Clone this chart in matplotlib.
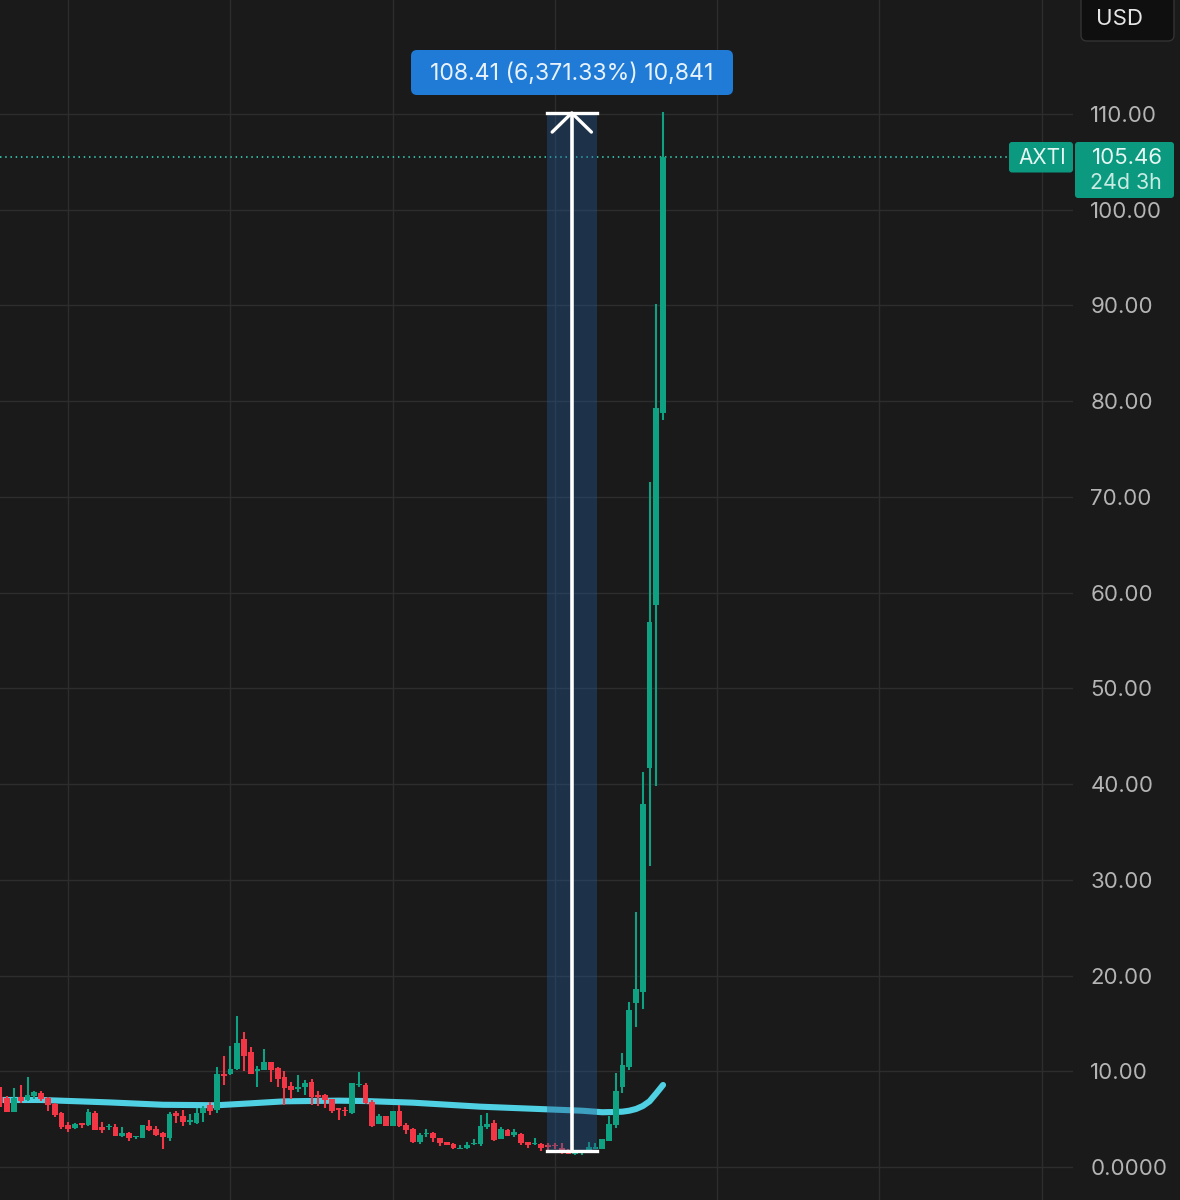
#!/usr/bin/env python3
"""AXTI candles with long moving average and a price range measure, dark theme."""
import matplotlib.pyplot as plt
import numpy as np
from matplotlib.patches import FancyBboxPatch, Rectangle
from matplotlib.transforms import IdentityTransform

W, H = 1180, 1200
BG = "#1a1a1a"
GRID = "#2d2d2d"
UP = "#0ea283"
DOWN = "#f23645"
MA_COLOR = "#4fd0e3"
LABEL = "#b4b4b4"

plt.rcParams["font.family"] = ["Inter", "DejaVu Sans"]

first_index = -1
opens = [
    7.35, 7.17, 5.75, 7.28, 7.00, 7.42, 7.76, 7.17, 6.58, 5.68,
    4.35, 4.04, 4.56, 4.35, 5.68, 4.14, 4.14, 4.21, 3.20, 3.59,
    3.10, 3.06, 4.32, 3.93, 3.52, 2.99, 5.61, 5.33, 4.70, 4.63,
    5.61, 6.48, 5.95, 9.71, 9.71, 10.27, 13.37, 12.01, 9.99, 10.17,
    10.97, 10.34, 9.37, 8.43, 8.11, 8.32, 8.88, 7.56, 7.49, 7.07,
    6.13, 5.92, 5.61, 8.53, 8.53, 6.82, 4.49, 5.29, 4.32, 5.88,
    4.42, 3.97, 2.65, 3.41, 3.55, 3.06, 2.58, 2.44, 1.92, 1.95,
    2.37, 2.40, 4.14, 4.63, 2.92, 3.86, 3.31, 3.41, 2.58, 2.40,
    2.44, 2.33, 2.33, 1.95, 1.71, 1.39, 1.46, 1.50, 1.92, 1.92,
    2.75, 4.35, 8.32, 10.45, 17.13, 18.28, 41.68, 58.71, 78.76,
]
highs = [
    8.32, 7.45, 8.22, 8.60, 9.37, 7.97, 7.97, 7.28, 6.65, 5.75,
    4.70, 4.60, 4.63, 6.09, 5.88, 4.67, 4.46, 4.49, 4.14, 3.66,
    3.27, 4.42, 4.91, 4.28, 3.66, 5.78, 5.88, 5.95, 5.54, 6.13,
    6.37, 6.82, 10.48, 11.60, 12.64, 15.81, 14.07, 12.50, 10.59, 12.33,
    10.97, 10.48, 9.99, 8.84, 9.65, 9.09, 9.23, 7.97, 7.63, 7.14,
    6.13, 6.30, 8.81, 9.89, 8.81, 7.00, 5.54, 5.36, 5.88, 6.48,
    4.56, 4.04, 3.59, 4.00, 3.62, 3.06, 2.58, 2.54, 2.30, 2.65,
    2.89, 5.43, 5.61, 4.91, 4.21, 3.97, 4.00, 3.55, 2.58, 3.06,
    2.51, 2.47, 2.47, 2.54, 1.85, 1.60, 1.67, 2.65, 2.54, 2.89,
    5.33, 9.85, 11.87, 17.24, 26.64, 41.26, 71.56, 90.15, 110.2,
]
lows = [
    6.30, 5.75, 5.75, 6.65, 6.93, 7.07, 6.93, 5.85, 5.19, 3.97,
    3.66, 3.97, 4.11, 4.28, 3.87, 3.59, 3.83, 3.20, 3.13, 2.72,
    2.92, 2.99, 3.80, 3.27, 1.88, 2.68, 4.56, 4.32, 4.39, 4.49,
    4.74, 5.43, 5.68, 8.60, 9.65, 10.13, 10.06, 9.75, 8.39, 10.10,
    8.88, 8.39, 6.51, 7.07, 7.83, 7.56, 6.44, 6.37, 6.16, 5.68,
    4.91, 5.33, 5.54, 8.32, 6.58, 4.14, 4.46, 4.28, 4.28, 4.21,
    3.45, 2.51, 2.40, 3.17, 2.61, 2.16, 2.30, 1.88, 1.88, 1.88,
    2.30, 2.19, 3.93, 2.75, 2.89, 3.24, 3.17, 2.26, 1.95, 2.26,
    1.71, 1.78, 1.85, 1.36, 1.32, 1.22, 1.29, 1.43, 1.85, 1.85,
    2.68, 4.07, 7.76, 10.13, 14.62, 16.50, 31.44, 39.80, 78.03,
]
closes = [
    6.72, 5.75, 7.17, 6.93, 7.52, 7.87, 7.07, 6.48, 5.43, 4.14,
    3.97, 4.53, 4.39, 5.75, 3.87, 3.87, 4.32, 3.27, 3.59, 3.03,
    3.24, 4.35, 3.87, 3.38, 3.10, 5.54, 5.36, 4.67, 4.91, 5.61,
    6.13, 5.85, 9.71, 9.51, 10.27, 12.92, 11.60, 9.75, 10.24, 10.97,
    10.10, 9.23, 8.25, 8.04, 8.32, 8.77, 7.35, 7.35, 7.00, 5.81,
    5.95, 5.81, 8.81, 8.67, 6.65, 4.28, 5.36, 4.28, 5.88, 4.28,
    3.83, 2.58, 3.38, 3.52, 3.03, 2.51, 2.30, 1.95, 2.02, 2.33,
    2.47, 4.28, 4.49, 2.86, 3.93, 3.27, 3.62, 2.51, 2.26, 2.54,
    1.98, 2.12, 2.19, 1.50, 1.36, 1.53, 1.57, 2.12, 2.05, 2.89,
    4.49, 7.97, 10.65, 16.40, 18.59, 37.92, 56.93, 79.29, 105.46,
]

ma_index = [-1, 5, 15, 23, 31, 36, 41, 49, 53, 60, 70, 80, 85, 88, 90, 91, 92, 93, 94, 95, 96, 97]
ma_values = [7.0, 7.0, 6.75, 6.5, 6.45, 6.65, 6.86, 6.93, 6.89, 6.72, 6.30, 6.02, 5.88, 5.72,
             5.75, 5.78, 5.88, 6.06, 6.37, 6.86, 7.70, 8.57]

price_ticks = [0, 10, 20, 30, 40, 50, 60, 70, 80, 90, 100, 110]
price_labels = ["0.0000", "10.00", "20.00", "30.00", "40.00", "50.00", "60.00",
                "70.00", "80.00", "90.00", "100.00", "110.00"]
time_grid = [9, 33, 57, 81, 105, 129, 153]

last_price = 105.46
range_low, range_high = 1.70, 110.11
range_start, range_end = 79.8, 87.2
range_text = "108.41 (6,371.33%) 10,841"


def px(x, y):
    """Reference pixel (top-left origin) to figure fraction."""
    return x / W, 1 - y / H


def box(fig, x0, y0, x1, y1, color, radius=4, edge="none", lw=0):
    # drawn in pixel space so the corners stay round
    patch = FancyBboxPatch(
        (x0 + radius, H - y1 + radius), x1 - x0 - 2 * radius, y1 - y0 - 2 * radius,
        boxstyle=f"round,pad={radius}", facecolor=color, edgecolor=edge, linewidth=lw,
        transform=IdentityTransform(),
    )
    fig.add_artist(patch)


fig = plt.figure(figsize=(W / 100, H / 100), dpi=100, facecolor=BG)
ax = fig.add_axes([0, 0, 1073 / W, 1])
ax.set_facecolor(BG)
ax.set_xlim((0 - 7.33) / 6.76, (1073 - 7.33) / 6.76)
ax.set_ylim(-33 / 9.573, 1167 / 9.573)
for s in ax.spines.values():
    s.set_visible(False)

ax.set_xticks(time_grid)
ax.set_xticklabels([])
ax.set_yticks(price_ticks)
ax.set_yticklabels(price_labels)
ax.yaxis.tick_right()
ax.tick_params(axis="x", length=0)
ax.tick_params(axis="y", length=0, pad=12.5, labelsize=16, labelcolor=LABEL)
ax.grid(True, color=GRID, lw=1.0)
ax.set_axisbelow(True)

o = np.array(opens)
h = np.array(highs)
l = np.array(lows)
c = np.array(closes)
x = np.arange(first_index, first_index + len(o))
colors = [UP if cc >= oo else DOWN for oo, cc in zip(o, c)]

ax.plot(ma_index, ma_values, color=MA_COLOR, lw=4.4, solid_capstyle="round",
        solid_joinstyle="round", zorder=2)
ax.vlines(x, l, h, colors=colors, lw=1.5, zorder=3)
ax.bar(x, np.abs(c - o), bottom=np.minimum(o, c), width=0.85, color=colors, lw=0, zorder=3)

ax.axhline(last_price, xmax=1009 / 1073, color="#35c4ae", lw=1.3, ls=(0, (0.8, 2.1)), zorder=2)

# range measure
ax.add_patch(Rectangle((range_start, range_low), range_end - range_start, range_high - range_low,
                       facecolor="#24588f", alpha=0.4, lw=0, zorder=4))
mid = (range_start + range_end) / 2
ax.plot([mid, mid], [range_low, range_high], color="white", lw=2.6, zorder=5,
        solid_capstyle="butt")
ax.plot([range_start, range_end], [range_high, range_high], color="white", lw=2.4, zorder=5)
ax.plot([range_start, range_end], [range_low, range_low], color="white", lw=2.4, zorder=5)
ax.plot([mid - 2.9, mid, mid + 2.9], [range_high - 2.0, range_high, range_high - 2.0],
        color="white", lw=2.4, zorder=5, solid_capstyle="round")

# labels on top
box(fig, 411, 50, 733, 95, "#1f7bd6", radius=6)
fx, fy = px(572, 74)
fig.text(fx, fy, range_text, color="#e8f2fb", fontsize=16.6, ha="center", va="center")

box(fig, 1009, 142, 1073, 172.5, "#0b9a80", radius=3)
fx, fy = px(1042, 158)
fig.text(fx, fy, "AXTI", color="#e6f6f2", fontsize=15, ha="center", va="center")
box(fig, 1075, 142, 1174, 198, "#0b9a80", radius=3)
fx, fy = px(1163, 158)
fig.text(fx, fy, "105.46", color="#e6f6f2", fontsize=16, ha="right", va="center")
fx, fy = px(1162, 183)
fig.text(fx, fy, "24d 3h", color="#c8ebe3", fontsize=15.4, ha="right", va="center")

box(fig, 1081, -8, 1174, 41, "#0f0f0f", radius=6, edge="#333333", lw=1.0)
fx, fy = px(1119, 19)
fig.text(fx, fy, "USD", color="#e6e6e6", fontsize=16, ha="center", va="center")

fig.savefig("out.png", dpi=100, facecolor=BG)
